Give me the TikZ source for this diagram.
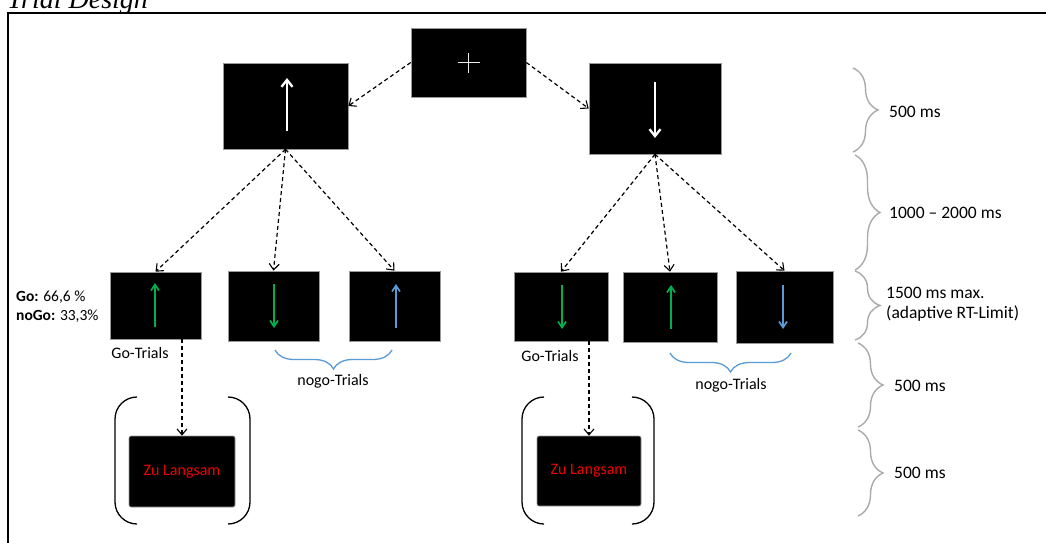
\documentclass[tikz,border=0pt]{standalone}
\usepackage{fontspec}
\setmainfont{Carlito}
\newfontfamily\titlefont{Liberation Serif}
\usetikzlibrary{arrows.meta,decorations.pathreplacing}

\definecolor{gogreen}{RGB}{0,176,80}
\definecolor{nogoblue}{RGB}{91,155,213}
\definecolor{slowred}{RGB}{240,0,0}
\definecolor{bracegray}{RGB}{170,170,170}

\tikzset{
  screen/.style={fill=black, draw=gray!80, line width=0.6pt, inner sep=0pt},
  flow/.style={dash pattern=on 4pt off 3pt, line width=1.2pt,
    -{Straight Barb[length=6pt,width=10pt,line width=1.1pt]}},
  cue/.style={line width=2.3pt, white, -{Straight Barb[length=7pt,width=11pt,line width=2.3pt]}},
  probe/.style={line width=1.7pt, -{Straight Barb[length=6pt,width=8pt,line width=1.7pt]}},
  timebrace/.style={draw=bracegray, line width=1.4pt, decorate,
    decoration={brace, amplitude=25pt}},
  groupbrace/.style={draw=nogoblue, line width=1.3pt, decorate,
    decoration={brace, amplitude=19pt}},
  paren/.style={line width=1.3pt, rounded corners=22pt},
  lbl/.style={font=\fontsize{16}{19}\selectfont, inner sep=0pt},
  timelbl/.style={font=\fontsize{17.5}{21}\selectfont, inner sep=0pt, anchor=west, align=left},
}

\begin{document}
\begin{tikzpicture}[x=1pt,y=-1pt]
\clip (0,0) rectangle (1046,542);
\fill[white] (0,0) rectangle (1046,542);

% title and outer frame
\node[anchor=base west, inner sep=0pt, font=\titlefont\itshape\fontsize{28}{32}\selectfont] (title) at (7,8) {Trial Design};
\draw[line width=2.8pt] (8,13) rectangle (1090,590);

% fixation screen
\node[screen, minimum width=115pt, minimum height=69pt] (fix) at (468.5,62.5) {};
\draw[white!85!gray, line width=1.2pt] ([xshift=-11pt]fix.center) -- ([xshift=11pt]fix.center)
  ([yshift=-10pt]fix.center) -- ([yshift=10pt]fix.center);

% cue screens
\node[screen, minimum width=125pt, minimum height=86pt] (up) at (285.5,106) {};
\draw[cue] (287,131) -- (287,78);
\node[screen, minimum width=132pt, minimum height=91pt] (down) at (655,108.5) {};
\draw[cue] (655,82) -- (655,138);

% target screens, left branch
\node[screen, minimum width=91pt, minimum height=67pt] (b1) at (155.5,305.5) {};
\draw[probe, gogreen] (155,327) -- (155,283);
\node[screen, minimum width=91pt, minimum height=70pt] (b2) at (273.5,306) {};
\draw[probe, gogreen] (274,284) -- (274,328);
\node[screen, minimum width=91pt, minimum height=70pt] (b3) at (394.5,306) {};
\draw[probe, nogoblue] (396,328) -- (396,284);

% target screens, right branch
\node[screen, minimum width=94pt, minimum height=69pt] (b4) at (561,306.5) {};
\draw[probe, gogreen] (562,285) -- (562,329);
\node[screen, minimum width=94pt, minimum height=70pt] (b5) at (670,307) {};
\draw[probe, gogreen] (671,329) -- (671,285);
\node[screen, minimum width=97pt, minimum height=72pt] (b6) at (784.5,307) {};
\draw[probe, nogoblue] (783,285) -- (783,329);

% feedback screens
\node[screen, rounded corners=2pt, minimum width=106pt, minimum height=71pt,
      font=\fontsize{16}{19}\selectfont, text=slowred] (zl1) at (182,471.5) {Zu Langsam};
\node[screen, rounded corners=2pt, minimum width=104pt, minimum height=70pt,
      font=\fontsize{16}{19}\selectfont, text=slowred] (zl2) at (589,471) {Zu Langsam};

% parentheses around feedback
\draw[paren] (137,397) -- (115,397) -- (115,524) -- (137,524);
\draw[paren] (228,397) -- (250,397) -- (250,524) -- (228,524);
\draw[paren] (544,397) -- (522,397) -- (522,524) -- (544,524);
\draw[paren] (632,397) -- (654,397) -- (654,524) -- (632,524);

% flow connectors
\draw[flow] (fix.west) -- (up.east);
\draw[flow] (fix.east) -- (down.west);
\draw[flow] (up.south) -- (b1.north);
\draw[flow] (up.south) -- (b2.north);
\draw[flow] (up.south) -- (b3.north);
\draw[flow] (down.south) -- (b4.north);
\draw[flow] (down.south) -- (b5.north);
\draw[flow] (down.south) -- (b6.north);
\draw[flow] (b1.south -| zl1.north) -- (zl1.north);
\draw[flow] (b4.south -| zl2.north) -- (zl2.north);

% trial labels
\node[lbl, anchor=west, font=\fontsize{15.5}{19}\selectfont] (go) at (16,297) {\textbf{Go:} 66,6 \%};
\node[lbl, anchor=west, font=\fontsize{15.5}{19}\selectfont] (nogo) at (16,316) {\textbf{noGo:} 33,3\%};
\node[lbl] (gt1) at (140,353) {Go-Trials};
\node[lbl] (gt2) at (550,356) {Go-Trials};
\draw[groupbrace] (392,350) -- (275,350);
\node[lbl] (ng1) at (333,381) {nogo-Trials};
\draw[groupbrace] (791,353) -- (670,353);
\node[lbl] (ng2) at (731,385) {nogo-Trials};

% timing braces
\draw[timebrace] (853,68) -- (853,152);
\node[timelbl] (t1) at (889,112) {500 ms};
\draw[timebrace] (855,155) -- (855,270);
\node[timelbl] (t2) at (889,213) {1000 -- 2000 ms};
\draw[timebrace] (855,271) -- (855,340);
\node[timelbl] (t3) at (886,304) {1500 ms max.\\[-1pt](adaptive RT-Limit)};
\draw[timebrace] (858,343) -- (858,427);
\node[timelbl] (t4) at (894,386) {500 ms};
\draw[timebrace] (858,430) -- (858,516);
\node[timelbl] (t5) at (894,473) {500 ms};
\end{tikzpicture}
\end{document}
